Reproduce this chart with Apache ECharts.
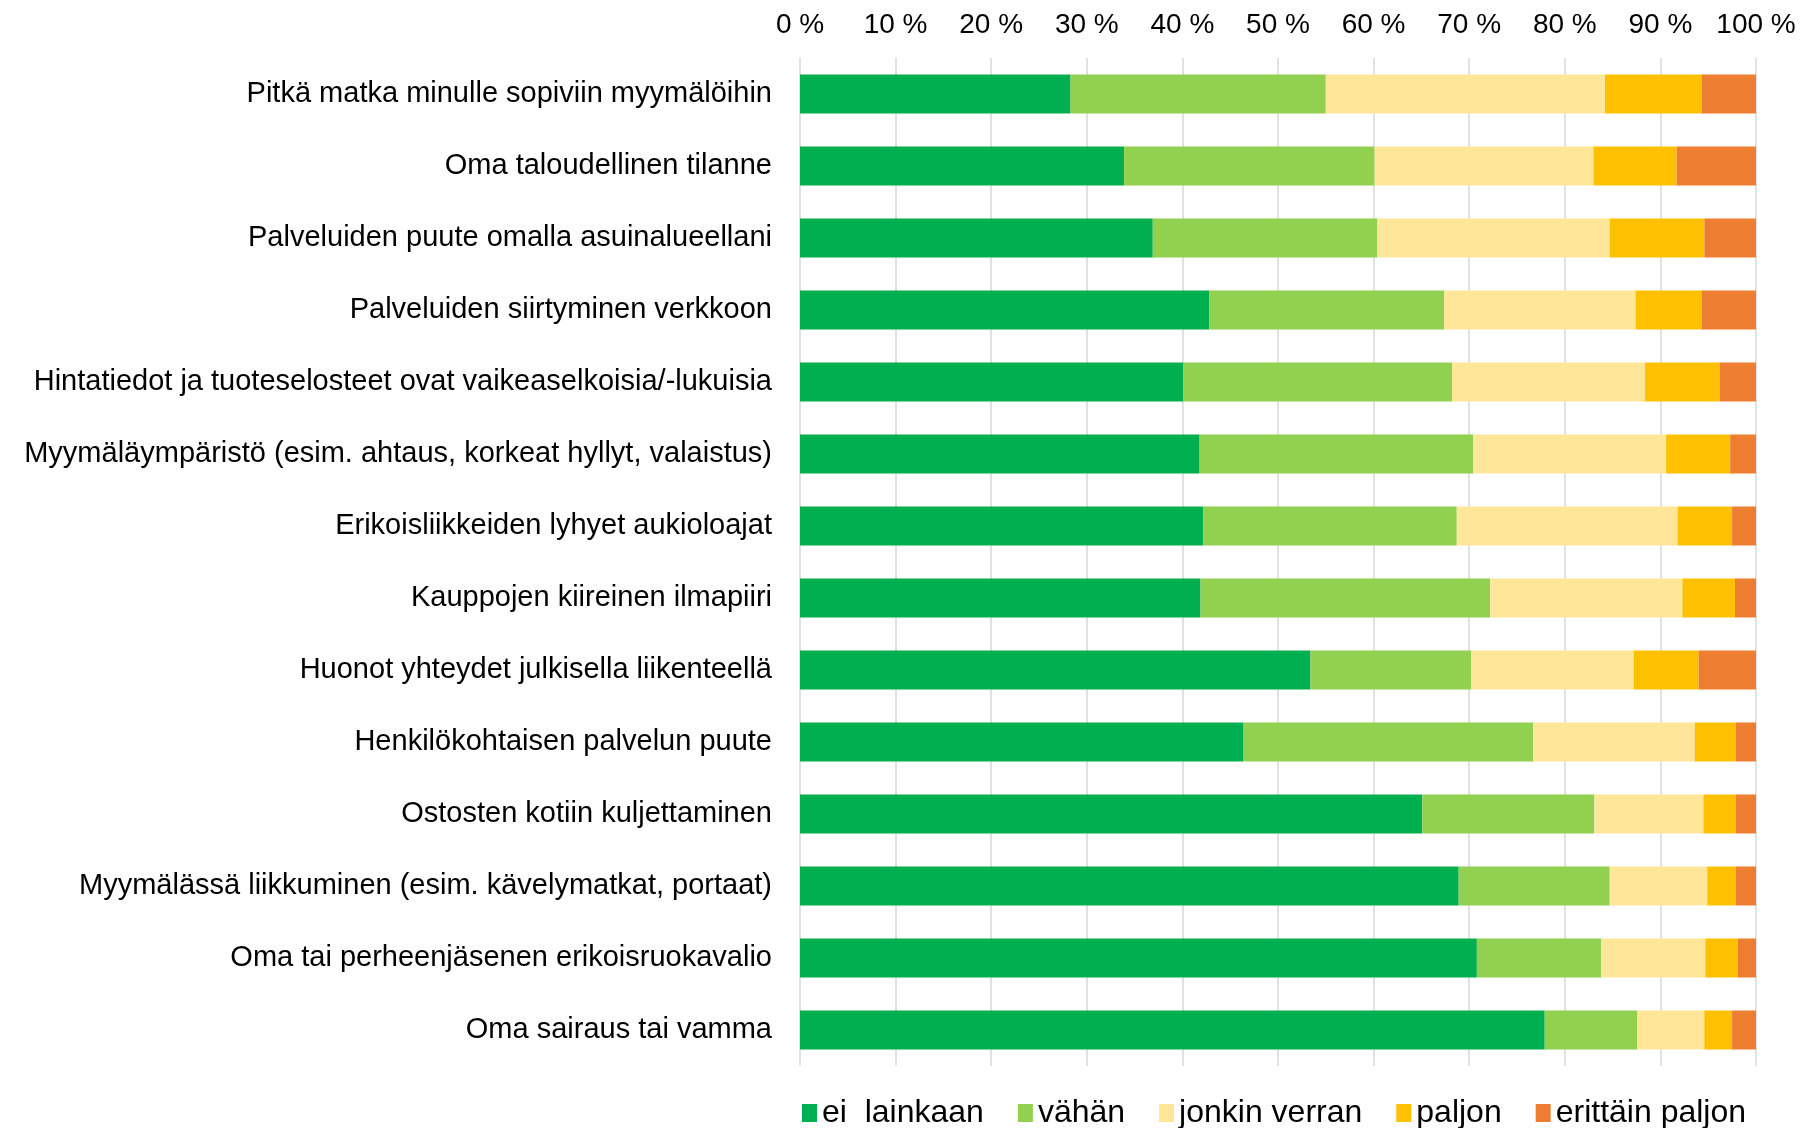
<!DOCTYPE html>
<html>
<head>
<meta charset="utf-8">
<script src="https://cdn.jsdelivr.net/npm/echarts@6/dist/echarts.min.js"></script>
<style>
  html, body { margin: 0; padding: 0; background: #fff; }
  #chart { width: 1806px; height: 1128px; }
</style>
</head>
<body>
<div id="chart"></div>
<script>
// kategoriat ylhäältä alas
const categories = [
  "Pitkä matka minulle sopiviin myymälöihin",
  "Oma taloudellinen tilanne",
  "Palveluiden puute omalla asuinalueellani",
  "Palveluiden siirtyminen verkkoon",
  "Hintatiedot ja tuoteselosteet ovat vaikeaselkoisia/-lukuisia",
  "Myymäläympäristö (esim. ahtaus, korkeat hyllyt, valaistus)",
  "Erikoisliikkeiden lyhyet aukioloajat",
  "Kauppojen kiireinen ilmapiiri",
  "Huonot yhteydet julkisella liikenteellä",
  "Henkilökohtaisen palvelun puute",
  "Ostosten kotiin kuljettaminen",
  "Myymälässä liikkuminen (esim. kävelymatkat, portaat)",
  "Oma tai perheenjäsenen erikoisruokavalio",
  "Oma sairaus tai vamma"
];
const seriesNames = ["ei  lainkaan", "vähän", "jonkin verran", "paljon", "erittäin paljon"];
const colors = ["#00b050", "#92d050", "#ffe699", "#ffc000", "#ed7d31"];

// osuudet prosentteina
const eiLainkaan = [28.3, 33.9, 36.9, 42.8, 40.1, 41.8, 42.2, 41.9, 53.4, 46.4, 65.1, 68.9, 70.8, 77.9];
const vahan = [26.7, 26.2, 23.5, 24.6, 28.1, 28.6, 26.5, 30.3, 16.8, 30.3, 18.0, 15.8, 13.0, 9.7];
const jonkinVerran = [29.2, 22.9, 24.3, 20.0, 20.2, 20.2, 23.1, 20.1, 17.0, 16.9, 11.4, 10.2, 10.9, 7.0];
const paljon = [10.1, 8.7, 9.9, 6.9, 7.8, 6.7, 5.7, 5.5, 6.8, 4.3, 3.4, 3.0, 3.4, 2.9];
const erittainPaljon = [5.7, 8.3, 5.4, 5.7, 3.8, 2.7, 2.5, 2.2, 6.0, 2.1, 2.1, 2.1, 1.9, 2.5];
const seriesData = [eiLainkaan, vahan, jonkinVerran, paljon, erittainPaljon];

const font = '"Liberation Sans", Arial, sans-serif';
const chart = echarts.init(document.getElementById("chart"));

const option = {
  animation: false,
  color: colors,
  textStyle: { fontFamily: font },
  grid: { left: 800, right: 50, top: 58, bottom: 62 },
  legend: {
    data: seriesNames,
    left: 797,
    top: 1092,
    icon: "rect",
    itemWidth: 15,
    itemHeight: 18,
    itemGap: 34,
    textStyle: { fontFamily: font, fontSize: 32, color: "#000" }
  },
  xAxis: {
    type: "value",
    position: "top",
    min: 0,
    max: 100,
    interval: 10,
    axisLine: { show: false },
    axisTick: { show: false },
    axisLabel: {
      formatter: "{value} %",
      fontSize: 28,
      color: "#000",
      margin: 19,
      fontFamily: font
    },
    splitLine: { lineStyle: { color: "#d9d9d9", width: 1.5 } }
  },
  yAxis: {
    type: "category",
    data: categories,
    inverse: true,
    axisLine: { show: false },
    axisTick: { show: false },
    axisLabel: { fontSize: 29, color: "#000", margin: 28, fontFamily: font }
  },
  series: seriesNames.map((name, i) => ({
    name: name,
    type: "bar",
    stack: "total",
    barWidth: 39,
    data: seriesData[i]
  }))
};

chart.setOption(option);
</script>
</body>
</html>
